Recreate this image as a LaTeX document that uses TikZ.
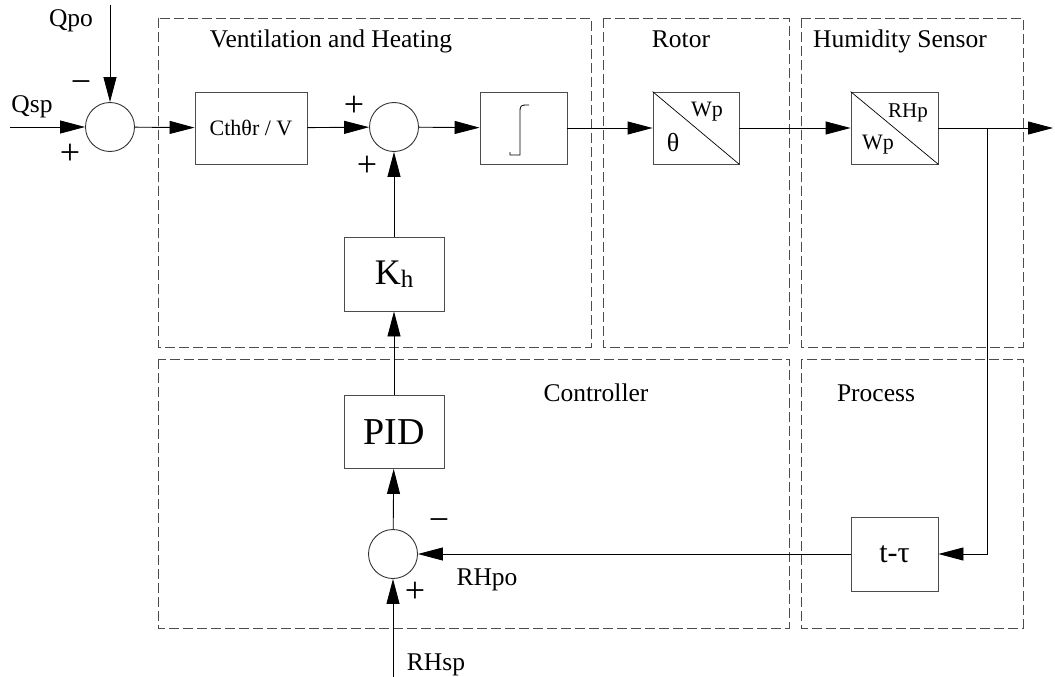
\documentclass[tikz,border=0pt]{standalone}
\usepackage{fontspec}
\setmainfont{Liberation Serif}
\usetikzlibrary{arrows.meta, positioning, calc}
\tikzset{
  every picture/.style={line width=0.9pt},
  block/.style={draw=black!70, minimum width=#1, minimum height=72pt, inner sep=0pt, font=\fontsize{22}{22}\selectfont},
  block/.default=87pt,
  sumc/.style={circle, draw=black!80, minimum size=49pt, inner sep=0pt},
  arrow/.style={-{Triangle[length=25pt, width=13pt]}, draw=black},
  group/.style={draw=black!70, dash pattern=on 10pt off 4pt},
  title/.style={font=\fontsize{25.5}{25.5}\selectfont, anchor=base, inner sep=0pt},
  lbl/.style={font=\fontsize{25.5}{25.5}\selectfont, anchor=base, inner sep=0pt},
  sign/.style={font=\fontsize{36}{36}\selectfont, inner sep=0pt},
}

\begin{document}
\begin{tikzpicture}[x=1pt, y=-1pt]
  \useasboundingbox (0,0) rectangle (1055,677);

  % dashed groups
  \draw[group] (158,18) rectangle (591,347);
  \draw[group] (603,18) rectangle (789,347);
  \draw[group] (801,18) rectangle (1023,347);
  \draw[group] (158,359) rectangle (789,628);
  \draw[group] (801,359) rectangle (1023,628);
  \node[title] (tvh)   at (331,48)  {Ventilation and Heating};
  \node[title] (trot)  at (681,48)  {Rotor};
  \node[title] (thum)  at (900,48)  {Humidity Sensor};
  \node[title] (tctl)  at (596,401) {Controller};
  \node[title] (tproc) at (876,401) {Process};

  % forward path
  \node[sumc] (s1) at (110,127) {};
  \node[block=112pt] (cth) at (251,128) {Cthθr / V};
  \node[sumc] (s2) at (394,127) {};
  \node[block] (int) at (523.5,128) {};
  \node[block=86pt] (rot) at (696,128) {};
  \node[block] (hum) at (894.5,128) {};
  \draw[line width=0.8pt] ([shift={(5.5,-23)}]int.center) .. controls ([shift={(-3.5,-23)}]int.center) .. ([shift={(-3.5,-14)}]int.center)
    -- ([shift={(-3.5,27)}]int.center) -- ([shift={(-13.5,27)}]int.center) -- ([shift={(-13.5,24)}]int.center);
  \draw[line width=0.7pt] (rot.north west) -- (rot.south east);
  \draw[line width=0.7pt] (hum.north west) -- (hum.south east);
  \node[font=\fontsize{22}{22}\selectfont, inner sep=0pt] (rotw) at (707,112) {Wp};
  \node[font=\fontsize{26}{26}\selectfont, inner sep=0pt] (rott) at (673,143) {θ};
  \node[font=\fontsize{21}{21}\selectfont, inner sep=0pt] (humr) at (908,113) {RHp};
  \node[font=\fontsize{22}{22}\selectfont, inner sep=0pt] (humw) at (878,145) {Wp};

  % feedback path
  \node[block=100pt, minimum height=74pt, font=\fontsize{36}{36}\selectfont] (kh) at (394,274) {K\raisebox{-0.2ex}{\fontsize{25}{25}\selectfont h}\hspace{12pt}};
  \node[block=100pt, minimum height=73pt, font=\fontsize{38}{38}\selectfont] (pid) at (394,432) {PID};
  \node[sumc] (s3) at (393,554) {};
  \node[block, minimum height=74pt, font=\fontsize{30}{30}\selectfont] (delay) at (894.5,554) {t-τ};

  \coordinate (qspin) at (10,127);
  \coordinate (qpoin) at (110,5);
  \coordinate (out) at (1053,128);
  \coordinate (br) at (987,128);
  \coordinate (rhin) at (393,677);

  \draw[arrow] (qspin) -- (s1);
  \draw[arrow] (qpoin) -- (s1);
  \draw[arrow] (s1) -- (cth);
  \draw[arrow] (cth) -- (s2);
  \draw[arrow] (s2) -- (int);
  \draw[arrow] (int) -- (rot);
  \draw[arrow] (rot) -- (hum);
  \draw[arrow] (hum) -- (out);
  \draw[arrow] (br) |- (delay.east);
  \draw[arrow] (delay) -- (s3);
  \draw[arrow] (rhin) -- (s3);
  \draw[arrow] (s3) -- (pid);
  \draw[arrow] (pid) -- (kh);
  \draw[arrow] (kh) -- (s2);

  % labels and signs
  \node[lbl] (lqpo)  at (71,27)   {Qpo};
  \node[lbl] (lqsp)  at (32,112)  {Qsp};
  \node[lbl] (lrhpo) at (487,585) {RHpo};
  \node[lbl] (lrhsp) at (436,670) {RHsp};
  \node[sign] (m1) at (81,87)   {−};
  \node[sign] (p1) at (70,154)  {+};
  \node[sign] (p2) at (354,106) {+};
  \node[sign] (p3) at (367,166) {+};
  \node[sign] (m3) at (439,525) {−};
  \node[sign] (p4) at (415,592) {+};
\end{tikzpicture}
\end{document}
